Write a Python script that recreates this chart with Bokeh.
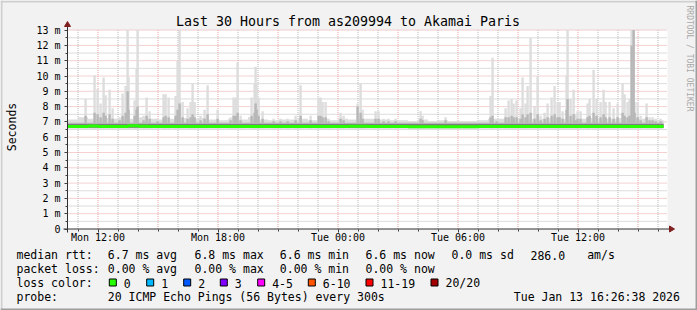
import numpy as np
from math import pi
from bokeh.plotting import figure
from bokeh.models import FixedTicker, LinearAxis, Range1d, ColumnDataSource
from bokeh.core.properties import value
from bokeh.embed import file_html
from bokeh.resources import INLINE

MONO = "DejaVu Sans Mono"

# ---------------- data (x = hours since Mon 00:00, y = milliseconds) ----------------
x_ticks = [12, 18, 24, 30, 36]
x_tick_labels = ["Mon 12:00", "Mon 18:00", "Tue 00:00", "Tue 06:00", "Tue 12:00"]
y_ticks = list(range(14))
y_tick_labels = ["0"] + ["%d m" % v for v in range(1, 14)]

data_start = 10.45
data_end = 40.28

# half-hour blocks starting Mon 10:30: top of the lightest smoke
base_top = [7.15, 7.3, 7.2, 7.25, 7.2, 7.25, 7.2, 7.3, 7.2, 7.15,
            7.2, 7.25, 7.2, 7.25, 7.15, 7.1, 7.2, 7.15, 7.3, 7.15,
            7.1, 7.15, 7.15, 7.2, 7.1, 7.2, 7.1, 7.2, 7.15, 7.2,
            7.2, 7.15, 7.1, 7.1, 7.05, 7.15, 7.05, 7.1, 7.05, 7.05,
            7.05, 7.1, 7.2, 7.2, 7.25, 7.25, 7.2, 7.2, 7.25, 7.2,
            7.25, 7.2, 7.25, 7.2, 7.2, 7.25, 7.2, 7.2, 7.15, 7.1]
# half-hour median rtt
median_rtt = [6.7, 6.7, 6.73, 6.7, 6.7, 6.7, 6.75, 6.72, 6.7, 6.7,
              6.7, 6.7, 6.7, 6.7, 6.7, 6.7, 6.7, 6.7, 6.7, 6.7,
              6.7, 6.7, 6.7, 6.7, 6.7, 6.7, 6.7, 6.7, 6.72, 6.72,
              6.7, 6.7, 6.7, 6.7, 6.68, 6.68, 6.68, 6.68, 6.68, 6.68,
              6.68, 6.7, 6.7, 6.7, 6.7, 6.7, 6.7, 6.7, 6.7, 6.7,
              6.7, 6.7, 6.7, 6.7, 6.7, 6.7, 6.7, 6.7, 6.7, 6.7]
smoke_floor = 6.55
mid_band = (6.6, 6.95)
core_band = (6.62, 6.86)

spike_time = [11.38, 11.83, 11.98, 12.13, 12.28, 12.38, 12.58, 12.73, 13.08, 13.23,
              13.38, 13.48, 13.53, 13.83, 13.93, 13.98, 14.28, 14.43, 14.58, 14.98,
              15.28, 15.38, 15.53, 15.88, 15.98, 16.08, 16.23, 16.48, 16.63, 16.73,
              16.83, 17.13, 17.33, 17.48, 17.98, 18.63, 18.78, 18.88, 18.98, 19.13,
              19.68, 19.83, 19.88, 19.93, 20.03, 20.23, 20.78, 21.13, 21.48, 21.88,
              22.13, 22.63, 23.03, 23.13, 23.23, 23.38, 23.53, 24.13, 24.28, 24.98,
              25.13, 25.23, 25.88, 26.03, 26.28, 26.53, 26.88, 28.13, 28.23, 29.38,
              31.63, 31.73, 31.93, 32.38, 32.53, 32.68, 32.78, 32.93, 33.13, 33.23,
              33.38, 33.48, 33.63, 33.83, 33.98, 34.13, 34.33, 34.48, 34.68, 34.83,
              34.98, 35.08, 35.23, 35.43, 35.48, 35.63, 35.78, 35.88, 35.98, 36.13,
              36.48, 36.58, 36.78, 36.93, 37.13, 37.28, 37.38, 37.58, 37.78, 37.98,
              38.23, 38.33, 38.48, 38.58, 38.68, 38.78, 38.83, 38.98, 39.13, 39.43,
              39.58, 39.73, 39.88, 40.13]
spike_top = [8.5, 10.05, 9.15, 8.2, 9.9, 8.75, 9.1, 7.9, 7.3, 8.85,
             9.35, 13.5, 9.9, 8.4, 10.45, 13.5, 7.4, 8.6, 7.7, 7.2,
             8.8, 8.8, 8.6, 8.7, 11.0, 13.5, 8.3, 7.9, 8.3, 9.5,
             8.3, 7.4, 7.8, 9.4, 7.8, 7.3, 8.6, 8.6, 10.9, 7.4,
             8.6, 9.5, 10.6, 9.5, 8.6, 7.7, 7.2, 7.2, 7.2, 7.4,
             9.4, 7.4, 8.6, 8.6, 8.3, 8.3, 7.2, 7.6, 7.4, 8.2,
             9.5, 7.8, 7.7, 7.7, 7.2, 7.2, 7.2, 7.7, 7.4, 7.3,
             8.7, 11.2, 7.2, 7.9, 8.4, 8.5, 8.2, 8.4, 7.9, 9.9,
             8.2, 9.35, 12.5, 8.0, 10.0, 7.4, 7.6, 8.2, 8.6, 9.35,
             8.3, 8.3, 7.7, 10.05, 13.5, 8.5, 9.1, 7.5, 7.7, 7.7,
             8.2, 8.5, 10.4, 8.5, 8.3, 9.1, 8.3, 8.3, 7.9, 8.2,
             9.5, 8.8, 8.3, 8.5, 13.5, 13.5, 8.3, 8.3, 7.4, 8.2,
             7.3, 7.3, 7.2, 7.2]
spike_mid = [7.4, 7.6, 7.5, 7.3, 7.6, 7.4, 7.5, 7.2, 7.1, 7.4,
             7.6, 9.0, 7.8, 7.4, 7.8, 8.0, 7.1, 7.4, 7.2, 7.05,
             7.3, 7.4, 7.3, 7.4, 7.8, 8.2, 7.3, 7.2, 7.3, 7.5,
             7.3, 7.1, 7.2, 7.5, 7.2, 7.1, 7.4, 7.4, 7.6, 7.1,
             7.4, 7.6, 8.2, 7.8, 7.4, 7.2, 7.05, 7.05, 7.05, 7.1,
             7.4, 7.1, 7.4, 7.4, 7.3, 7.3, 7.05, 7.2, 7.1, 8.0,
             7.6, 7.2, 7.2, 7.2, 7.05, 7.05, 7.05, 7.2, 7.1, 7.1,
             7.3, 7.4, 7.05, 7.3, 7.3, 7.4, 7.3, 7.3, 7.2, 7.5,
             7.3, 7.5, 7.6, 7.2, 7.5, 7.1, 7.2, 7.3, 7.4, 7.5,
             7.3, 7.3, 7.2, 7.8, 8.5, 7.4, 7.5, 7.1, 7.2, 7.2,
             7.3, 7.4, 7.6, 7.4, 7.3, 7.5, 7.3, 7.3, 7.2, 7.3,
             7.6, 7.4, 7.3, 7.4, 12.0, 13.5, 7.6, 7.3, 7.1, 7.3,
             7.1, 7.1, 7.05, 7.05]

# legend texts
title_text = "Last 30 Hours from as209994 to Akamai Paris"
rtt_stats = ["6.7 ms avg", "6.8 ms max", "6.6 ms min", "6.6 ms now", "0.0 ms sd", "286.0", "am/s"]
loss_stats = ["0.00 % avg", "0.00 % max", "0.00 % min", "0.00 % now"]
loss_labels = ["0", "1", "2", "3", "4-5", "6-10", "11-19", "20/20"]
loss_colors = ["#26ff00", "#00b8ff", "#0059ff", "#7e00ff", "#ff00ff", "#ff5500", "#ff0000", "#a00000"]
probe_text = "20 ICMP Echo Pings (56 Bytes) every 300s"
stamp_text = "Tue Jan 13 16:26:38 2026"

# ---------------- layout (canvas pixels -> data coordinates) ----------------
W, H = 697, 310
FL = 67          # left edge of the plot area
FB = 228.5       # pixel row of 0 ms
PXH = 20.0       # pixels per hour
PXV = 15.3       # pixels per millisecond
x0 = 12 - (97.5 - FL) / PXH
x1 = x0 + 600 / PXH
y_top = 13.0
SH = 3.5         # baseline correction for text glyphs


def dx(px):
    return x0 + (px - FL) / PXH


def dy(py):
    return (FB - py) / PXV


p = figure(width=W, height=H, output_backend="svg", toolbar_location=None,
           x_range=Range1d(dx(0), dx(W)), y_range=Range1d(dy(H), dy(0)),
           x_axis_location=None, y_axis_location=None, title=None, min_border=0)
p.background_fill_color = "#F2F2F2"
p.border_fill_color = "#F2F2F2"
p.outline_line_color = None
for g in p.grid:
    g.visible = False

# canvas shading border
p.quad(left=[dx(0), dx(0), dx(W - 2), dx(0)], right=[dx(W), dx(2), dx(W), dx(W)],
       bottom=[dy(2), dy(H), dy(H), dy(H)], top=[dy(0), dy(0), dy(0), dy(H - 2)],
       fill_color=["#CFCFCF", "#CFCFCF", "#9E9E9E", "#9E9E9E"], line_color=None)

# white plot area
p.quad(left=[x0], right=[x1], bottom=[0], top=[y_top], fill_color="#FFFFFF", line_color=None)

# dotted grid
minor_x = [h for h in range(11, 41) if h % 3 != 0]
major_x = [h for h in range(12, 41, 3)]
minor_y = [v + 0.5 for v in range(13)]
major_y = list(range(1, 14))
p.segment(x0=minor_x, y0=0, x1=minor_x, y1=y_top, line_color="#B8B8B8", line_dash="1 1", line_width=1)
p.segment(x0=x0, y0=minor_y, x1=x1, y1=minor_y, line_color="#B8B8B8", line_dash="1 1", line_width=1)
p.segment(x0=major_x, y0=0, x1=major_x, y1=y_top, line_color="#E8A4A4", line_dash="1 1", line_width=1)
p.segment(x0=x0, y0=major_y, x1=x1, y1=major_y, line_color="#E8A4A4", line_dash="1 1", line_width=1)

# ---------------- smoke ----------------
k = np.arange(len(base_top))
bl = np.maximum(10.5 + 0.5 * k, data_start)
br = np.minimum(11.0 + 0.5 * k, data_end)
base = ColumnDataSource(dict(left=bl, right=br, top=base_top))

st = np.array(spike_time)
spikes = ColumnDataSource(dict(left=st - 0.06, right=st + 0.06,
                               top=np.minimum(spike_top, y_top),
                               mid=np.minimum(spike_mid, y_top)))

p.quad(left="left", right="right", bottom=smoke_floor, top="top", source=base,
       fill_color="#DDDDDD", line_color=None)
p.quad(left="left", right="right", bottom=smoke_floor, top="top", source=spikes,
       fill_color="#DDDDDD", line_color=None)
p.quad(left="left", right="right", bottom=mid_band[0], top=mid_band[1], source=base,
       fill_color="#B7B7B7", line_color=None)
p.quad(left="left", right="right", bottom=mid_band[0], top="mid", source=spikes,
       fill_color="#B7B7B7", line_color=None)
p.quad(left="left", right="right", bottom=core_band[0], top=core_band[1], source=base,
       fill_color="#7E7E7E", line_color=None)

mx = np.column_stack([bl, br]).ravel()
my = np.repeat(median_rtt, 2)
p.line(mx, my, line_color="#26ff00", line_width=3)

# ---------------- axes ----------------
xaxis = LinearAxis(fixed_location=0, bounds=(x0, x1),
                   ticker=FixedTicker(ticks=x_ticks, minor_ticks=list(range(11, 41))))
xaxis.major_label_overrides = dict(zip(x_ticks, x_tick_labels))
yaxis = LinearAxis(fixed_location=x0, bounds=(0, y_top),
                   ticker=FixedTicker(ticks=y_ticks, minor_ticks=minor_y))
yaxis.major_label_overrides = dict(zip(y_ticks, y_tick_labels))
for ax in (xaxis, yaxis):
    ax.axis_line_color = None
    ax.major_tick_line_color = "#404040"
    ax.minor_tick_line_color = "#404040"
    ax.major_tick_in = 0
    ax.major_tick_out = 3
    ax.minor_tick_in = 0
    ax.minor_tick_out = 2
    ax.major_label_text_font = MONO
    ax.major_label_text_font_size = "10px"
    ax.major_label_text_color = "#000000"
xaxis.major_label_standoff = 0
yaxis.major_label_standoff = 4
p.add_layout(xaxis, "below")
p.add_layout(yaxis, "left")

# axis lines with arrow heads
p.segment(x0=[dx(63), x0], y0=[0, dy(232)], x1=[dx(669), x0], y1=[0, dy(26)],
          line_color="#303030", line_width=1)
p.patches(xs=[[dx(669), dx(674), dx(669)], [dx(64), dx(67), dx(70)]],
          ys=[[dy(225.5), dy(228.5), dy(231.5)], [dy(26), dy(21), dy(26)]],
          fill_color="#801F1F", line_color="#801F1F")

# ---------------- texts ----------------
p.text(x=[dx(347.5)], y=[dy(24 - SH)], text=[title_text], text_font=value(MONO),
       text_font_size=value("13.3px"), text_align="center", text_baseline="alphabetic",
       text_color="#000000")
p.text(x=[dx(15 - SH)], y=[dy(126.5)], text=["Seconds"], angle=pi / 2, text_font=value(MONO),
       text_font_size=value("11.5px"), text_align="center", text_baseline="alphabetic",
       text_color="#000000")
p.text(x=[dx(685 + SH)], y=[dy(5)], text=["RRDTOOL / TOBI OETIKER"], angle=-pi / 2,
       text_font=value(MONO), text_font_size=value("8px"), text_align="left",
       text_baseline="alphabetic", text_color="#A8A8A8")

rows_y = [258, 272, 286, 300]
sw_x = [108.3, 145.7, 182.7, 219.3, 256.7, 307.3, 365, 430]
tx, ty, tt = [], [], []


def put(t, px, py):
    tx.append(dx(px))
    ty.append(dy(py - SH))
    tt.append(t)


put("median rtt:", 16, rows_y[0])
for t, x in zip(rtt_stats, [107.3, 194, 279.3, 365, 451, 530, 586.7]):
    put(t, x, rows_y[0])
put("packet loss:", 16, rows_y[1])
for t, x in zip(loss_stats, [107.3, 194, 279.3, 365]):
    put(t, x, rows_y[1])
put("loss color:", 16, rows_y[2])
for t, x in zip(loss_labels, sw_x):
    put(t, x + 15, rows_y[2])
put("probe:", 16, rows_y[3])
put(probe_text, 107.3, rows_y[3])
put(stamp_text, 513.3, rows_y[3])
p.text(x=tx, y=ty, text=tt, text_font=value(MONO), text_font_size=value("11.5px"),
       text_align="left", text_baseline="alphabetic", text_color="#000000")

sx = np.array(sw_x)
p.quad(left=dx(sx + 0.5), right=dx(sx + 7.5), top=dy(278.5), bottom=dy(285.5),
       fill_color=loss_colors, line_color="#000000", line_width=1)

open("out.html", "w").write(file_html(p, INLINE))
